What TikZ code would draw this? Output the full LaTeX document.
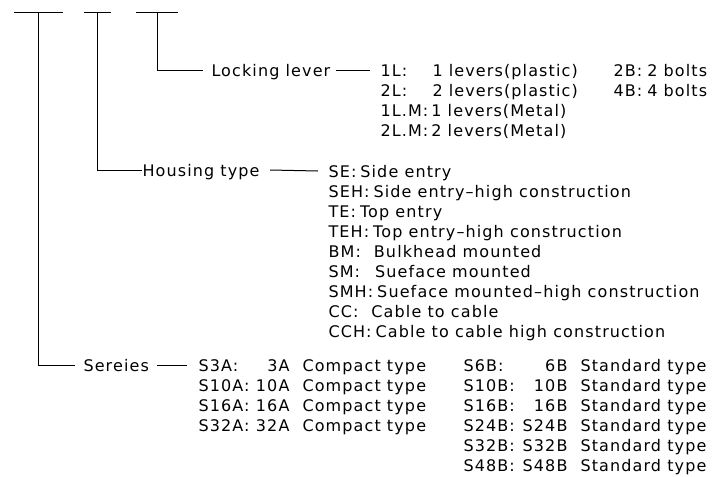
\documentclass[tikz,border=0pt]{standalone}
\usepackage{fontspec}
\setmainfont{DejaVu Sans}[LetterSpace=7]
\begin{document}
\begin{tikzpicture}[x=1pt,y=-1pt,line width=1pt,
  txt/.style={inner sep=0pt,text height=12pt,text depth=0pt,font=\fontsize{16}{16}\selectfont,anchor=west},
  txr/.style={txt,anchor=east}]
\useasboundingbox (0,0) rectangle (724,477);
% top bars
\coordinate (b1l) at (14,12); \coordinate (b1r) at (63,12); \coordinate (b1m) at (38,12);
\coordinate (b2l) at (84,12); \coordinate (b2r) at (111,12); \coordinate (b2m) at (97,12);
\coordinate (b3l) at (136,12); \coordinate (b3r) at (178,12); \coordinate (b3m) at (157,12);
\draw (b1l) -- (b1r); \draw (b2l) -- (b2r); \draw (b3l) -- (b3r);
% Locking lever
\node[txt] (lock) at (211,70) {Locking lever};
\node[txt] (l1c) at (380,70) {1L:};
\node[txt] (l1v) at (432,70) {1 levers(plastic)};
\node[txt] (l1b) at (613,70) {2B:};
\node[txt] (l1bv) at ([xshift=4pt]l1b.east) {2 bolts};
\node[txt] (l2c) at (380,90) {2L:};
\node[txt] (l2v) at (432,90) {2 levers(plastic)};
\node[txt] (l2b) at (613,90) {4B:};
\node[txt] (l2bv) at ([xshift=4pt]l2b.east) {4 bolts};
\node[txt] (l3c) at (380,110) {1L.M:};
\node[txt] (l3v) at ([xshift=2pt]l3c.east) {1 levers(Metal)};
\node[txt] (l4c) at (380,130) {2L.M:};
\node[txt] (l4v) at ([xshift=2pt]l4c.east) {2 levers(Metal)};
\draw (b3m) |- ([xshift=-8pt]lock.west);
\draw ([xshift=5pt]lock.east) -- ([xshift=-10pt]l1c.west);
% Housing type
\node[txt] (hous) at (142,170) {Housing type};
\draw (b2m) |- (hous.west);
\foreach \c/\d/\g [count=\i from 0] in {SE:/Side entry/3,SEH:/Side entry–high construction/3,TE:/Top entry/3,TEH:/Top entry–high construction/3,BM:/Bulkhead mounted/12,SM:/Sueface mounted/14,SMH:/Sueface mounted–high construction/3,CC:/Cable to cable/12,CCH:/Cable to cable high construction/3}{
  \node[txt] (hc\i) at (328,171+20*\i) {\c};
  \node[txt] (hd\i) at ([xshift=\g pt]hc\i.east) {\d};
}
\draw ([xshift=10pt]hous.east) -- ([xshift=-10pt]hc0.west);
% Series
\node[txt] (ser) at (83,365) {Sereies};
\draw (b1m) |- ([xshift=-8pt]ser.west);
\foreach \c/\v [count=\i from 0] in {S3A:/3A,S10A:/10A,S16A:/16A,S32A:/32A}{
  \node[txt] (sa\i) at (198,365+20*\i) {\c};
  \node[txr] (sav\i) at (290,365+20*\i) {\v};
  \node[txt] (sad\i) at (302,365+20*\i) {Compact type};
}
\foreach \c/\v [count=\i from 0] in {S6B:/6B,S10B:/10B,S16B:/16B,S24B:/S24B,S32B:/S32B,S48B:/S48B}{
  \node[txt] (sb\i) at (463,365+20*\i) {\c};
  \node[txr] (sbv\i) at (568,365+20*\i) {\v};
  \node[txt] (sbd\i) at (580,365+20*\i) {Standard type};
}
\draw ([xshift=8pt]ser.east) -- ([xshift=-11pt]sa0.west);
\end{tikzpicture}
\end{document}
